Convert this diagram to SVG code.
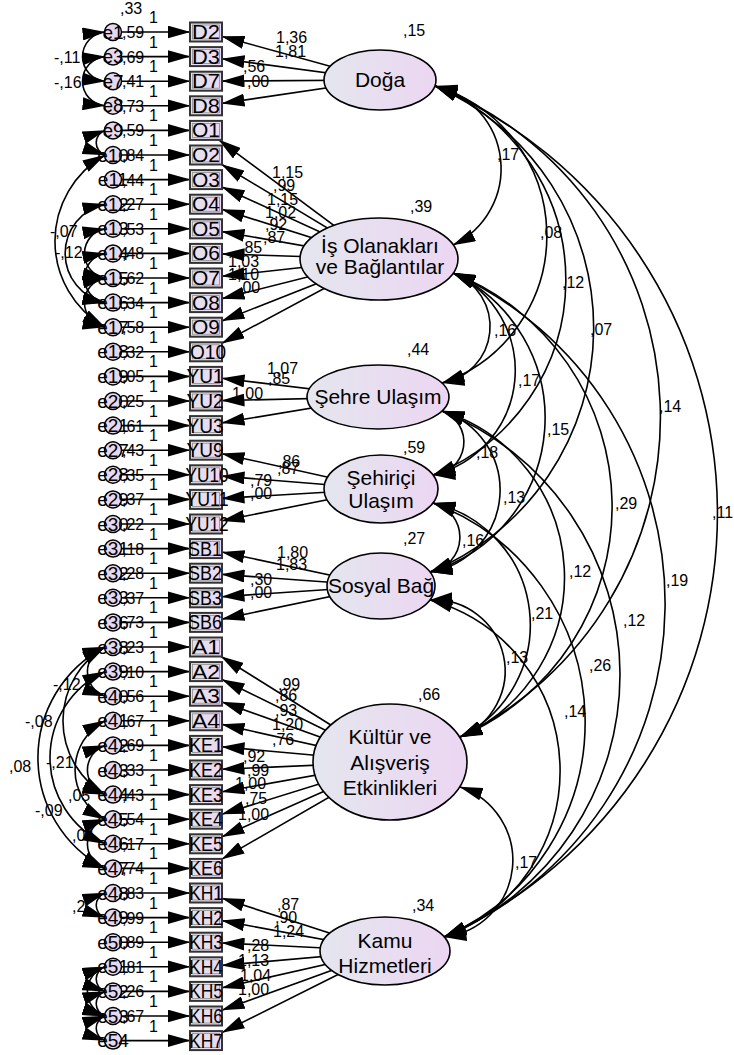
<svg xmlns="http://www.w3.org/2000/svg" width="734" height="1055" viewBox="0 0 734 1055">
<defs>
<marker id="ah" viewBox="0 0 23 13" markerWidth="23" markerHeight="13" refX="22.5" refY="6.5" orient="auto-start-reverse" markerUnits="userSpaceOnUse"><path d="M0,0 L23,6.5 L0,13 Z" fill="#000"/></marker>
<linearGradient id="gl" x1="0" y1="0" x2="1" y2="0"><stop offset="0" stop-color="#e4e6ee"/><stop offset="1" stop-color="#ecd6f2"/></linearGradient>
<linearGradient id="gb" x1="0" y1="0" x2="1" y2="0"><stop offset="0" stop-color="#e2e2ec"/><stop offset="1" stop-color="#ecd8f2"/></linearGradient>
<style>
text { font-family: "Liberation Sans", Arial, sans-serif; fill: #000; }
.ln { stroke: #000; stroke-width: 1.6; fill: none; }
.ar { marker-end: url(#ah); }
.cv { marker-start: url(#ah); marker-end: url(#ah); }
.lab { font-size: 16px; }
.box rect.o { fill: url(#gb); stroke: #333; stroke-width: 2; }
.box rect.i { fill: none; stroke: #8a8a8a; stroke-width: 0.8; }
.box text { font-size: 20px; text-anchor: middle; }
.err circle { fill: #e6d8ee; stroke: #000; stroke-width: 1.5; }
.err text { font-size: 19px; text-anchor: middle; }
.lat ellipse { fill: url(#gl); stroke: #000; stroke-width: 1.6; }
.lat text { font-size: 21px; text-anchor: middle; }
</style>
</defs>
<rect width="734" height="1055" fill="#fff"/>

<g id="connectors">
<!-- error -> indicator -->
<path class="ln ar" d="M121.5,32 H190"/>
<path class="ln ar" d="M121.5,56.6 H190"/>
<path class="ln ar" d="M121.5,81.2 H190"/>
<path class="ln ar" d="M121.5,105.8 H190"/>
<path class="ln ar" d="M121.5,130.4 H190"/>
<path class="ln ar" d="M121.5,155 H190"/>
<path class="ln ar" d="M121.5,179.6 H190"/>
<path class="ln ar" d="M121.5,204.2 H190"/>
<path class="ln ar" d="M121.5,228.8 H190"/>
<path class="ln ar" d="M121.5,253.4 H190"/>
<path class="ln ar" d="M121.5,278 H190"/>
<path class="ln ar" d="M121.5,302.6 H190"/>
<path class="ln ar" d="M121.5,327.2 H190"/>
<path class="ln ar" d="M121.5,351.8 H190"/>
<path class="ln ar" d="M121.5,376.4 H190"/>
<path class="ln ar" d="M121.5,401 H190"/>
<path class="ln ar" d="M121.5,425.6 H190"/>
<path class="ln ar" d="M121.5,450.2 H190"/>
<path class="ln ar" d="M121.5,474.8 H190"/>
<path class="ln ar" d="M121.5,499.4 H190"/>
<path class="ln ar" d="M121.5,524 H190"/>
<path class="ln ar" d="M121.5,548.6 H190"/>
<path class="ln ar" d="M121.5,573.2 H190"/>
<path class="ln ar" d="M121.5,597.8 H190"/>
<path class="ln ar" d="M121.5,622.4 H190"/>
<path class="ln ar" d="M121.5,647 H190"/>
<path class="ln ar" d="M121.5,671.6 H190"/>
<path class="ln ar" d="M121.5,696.2 H190"/>
<path class="ln ar" d="M121.5,720.8 H190"/>
<path class="ln ar" d="M121.5,745.4 H190"/>
<path class="ln ar" d="M121.5,770 H190"/>
<path class="ln ar" d="M121.5,794.6 H190"/>
<path class="ln ar" d="M121.5,819.2 H190"/>
<path class="ln ar" d="M121.5,843.8 H190"/>
<path class="ln ar" d="M121.5,868.4 H190"/>
<path class="ln ar" d="M121.5,893 H190"/>
<path class="ln ar" d="M121.5,917.6 H190"/>
<path class="ln ar" d="M121.5,942.2 H190"/>
<path class="ln ar" d="M121.5,966.8 H190"/>
<path class="ln ar" d="M121.5,991.4 H190"/>
<path class="ln ar" d="M121.5,1016 H190"/>
<path class="ln ar" d="M121.5,1040.6 H190"/>

<!-- factor loadings -->
<path class="ln ar" d="M380,80 L222,36.4"/>
<path class="ln ar" d="M380,80 L222,58.8"/>
<path class="ln ar" d="M380,80 L222,81.1"/>
<path class="ln ar" d="M380,80 L222,103.4"/>
<path class="ln ar" d="M379,259 L218.8,139.9"/>
<path class="ln ar" d="M379,259 L221.8,164.5"/>
<path class="ln ar" d="M379,259 L222,186.9"/>
<path class="ln ar" d="M379,259 L222,209.3"/>
<path class="ln ar" d="M379,259 L222,231.6"/>
<path class="ln ar" d="M379,259 L222,253.9"/>
<path class="ln ar" d="M379,259 L222,276.2"/>
<path class="ln ar" d="M379,259 L222,298.6"/>
<path class="ln ar" d="M379,259 L222,320.9"/>
<path class="ln ar" d="M379,259 L222,343.2"/>
<path class="ln ar" d="M378,397 L222,378.3"/>
<path class="ln ar" d="M378,397 L222,400.6"/>
<path class="ln ar" d="M378,397 L222,422.9"/>
<path class="ln ar" d="M381,489 L222,453.7"/>
<path class="ln ar" d="M381,489 L222,476.1"/>
<path class="ln ar" d="M381,489 L222,498.4"/>
<path class="ln ar" d="M381,489 L222,520.8"/>
<path class="ln ar" d="M381,586 L222,552"/>
<path class="ln ar" d="M381,586 L222,574.4"/>
<path class="ln ar" d="M381,586 L222,596.7"/>
<path class="ln ar" d="M381,586 L222,619.1"/>
<path class="ln ar" d="M390,762 L221.2,656.5"/>
<path class="ln ar" d="M390,762 L222,679.5"/>
<path class="ln ar" d="M390,762 L222,701.9"/>
<path class="ln ar" d="M390,762 L222,724.4"/>
<path class="ln ar" d="M390,762 L222,746.8"/>
<path class="ln ar" d="M390,762 L222,769.3"/>
<path class="ln ar" d="M390,762 L222,791.8"/>
<path class="ln ar" d="M390,762 L222,814.2"/>
<path class="ln ar" d="M390,762 L222,836.7"/>
<path class="ln ar" d="M390,762 L222,859.1"/>
<path class="ln ar" d="M385,951 L222,898.2"/>
<path class="ln ar" d="M385,951 L222,920.6"/>
<path class="ln ar" d="M385,951 L222,943"/>
<path class="ln ar" d="M385,951 L222,965.4"/>
<path class="ln ar" d="M385,951 L222,987.8"/>
<path class="ln ar" d="M385,951 L222,1010.2"/>
<path class="ln ar" d="M385,951 L222,1032.6"/>

<!-- factor covariances -->
<path class="ln cv" d="M435,86 A84.7,84.7 0 0 1 453,245"/>
<path class="ln cv" d="M435,86 A156,156 0 0 1 442,383"/>
<path class="ln cv" d="M435,86 A209.4,209.4 0 0 1 433,475"/>
<path class="ln cv" d="M435,86 A263.8,263.8 0 0 1 430,572"/>
<path class="ln cv" d="M435,86 A355.7,355.7 0 0 1 460,737"/>
<path class="ln cv" d="M435,86 A464.7,464.7 0 0 1 444,937"/>
<path class="ln cv" d="M453,273 A57.2,57.2 0 0 1 442,383"/>
<path class="ln cv" d="M453,273 A107.5,107.5 0 0 1 433,475"/>
<path class="ln cv" d="M453,273 A160.4,160.4 0 0 1 430,572"/>
<path class="ln cv" d="M453,273 A250.8,250.8 0 0 1 460,737"/>
<path class="ln cv" d="M453,273 A362.8,362.8 0 0 1 444,937"/>
<path class="ln cv" d="M442,411 A33,33 0 0 1 433,475"/>
<path class="ln cv" d="M442,411 A82.9,82.9 0 0 1 430,572"/>
<path class="ln cv" d="M442,411 A174.2,174.2 0 0 1 460,737"/>
<path class="ln cv" d="M442,411 A283.9,283.9 0 0 1 444,937"/>
<path class="ln cv" d="M433,503 A35.2,35.2 0 0 1 430,572"/>
<path class="ln cv" d="M433,503 A124.8,124.8 0 0 1 460,737"/>
<path class="ln cv" d="M433,503 A234,234 0 0 1 444,937"/>
<path class="ln cv" d="M430,600 A71,71 0 0 1 460,737"/>
<path class="ln cv" d="M430,600 A177.1,177.1 0 0 1 444,937"/>
<path class="ln cv" d="M460,787 A77.2,77.2 0 0 1 444,937"/>

<!-- error covariances -->
<path class="ln cv" d="M105,32 A24.7,24.7 0 0 0 105,81.2"/>
<path class="ln cv" d="M105,56.6 A24.7,24.7 0 0 0 105,105.8"/>
<path class="ln cv" d="M105,130.4 A13,13 0 0 0 105,155"/>
<path class="ln cv" d="M105,155 A99.1,99.1 0 0 0 105,327.2"/>
<path class="ln cv" d="M105,204.2 A50.3,50.3 0 0 0 105,302.6"/>
<path class="ln cv" d="M105,228.8 A25,25 0 0 0 105,278"/>
<path class="ln cv" d="M105,253.4 A25,25 0 0 0 105,302.6"/>
<path class="ln cv" d="M105,278 A25,25 0 0 0 105,327.2"/>
<path class="ln cv" d="M105,647 A124.9,124.9 0 0 0 105,868.4"/>
<path class="ln cv" d="M105,671.6 A94.9,94.9 0 0 0 105,843.8"/>
<path class="ln cv" d="M105,647 A85.8,85.8 0 0 0 105,794.6"/>
<path class="ln cv" d="M105,720.8 A55.4,55.4 0 0 0 105,819.2"/>
<path class="ln cv" d="M105,647 A26,26 0 0 0 105,696.2"/>
<path class="ln cv" d="M105,745.4 A26,26 0 0 0 105,794.6"/>
<path class="ln cv" d="M105,819.2 A26,26 0 0 0 105,868.4"/>
<path class="ln cv" d="M105,893 A13,13 0 0 0 105,917.6"/>
<path class="ln cv" d="M105,966.8 A13,13 0 0 0 105,991.4"/>
<path class="ln cv" d="M105,991.4 A13,13 0 0 0 105,1016"/>
<path class="ln cv" d="M105,1016 A13,13 0 0 0 105,1040.6"/>
<path class="ln cv" d="M105,966.8 A26,26 0 0 0 105,1016"/>
</g>

<g id="labels" class="lab">
<!-- regression weights "1" -->
<text x="149" y="23">1</text><text x="149" y="47.6">1</text><text x="149" y="72.2">1</text><text x="149" y="96.8">1</text>
<text x="149" y="121.4">1</text><text x="149" y="146">1</text><text x="149" y="170.6">1</text><text x="149" y="195.2">1</text>
<text x="149" y="219.8">1</text><text x="149" y="244.4">1</text><text x="149" y="269">1</text><text x="149" y="293.6">1</text>
<text x="149" y="318.2">1</text><text x="149" y="342.8">1</text><text x="149" y="367.4">1</text><text x="149" y="392">1</text>
<text x="149" y="416.6">1</text><text x="149" y="441.2">1</text><text x="149" y="465.8">1</text><text x="149" y="490.4">1</text>
<text x="149" y="515">1</text><text x="149" y="539.6">1</text><text x="149" y="564.2">1</text><text x="149" y="588.8">1</text>
<text x="149" y="613.4">1</text><text x="149" y="638">1</text><text x="149" y="662.6">1</text><text x="149" y="687.2">1</text>
<text x="149" y="711.8">1</text><text x="149" y="736.4">1</text><text x="149" y="761">1</text><text x="149" y="785.6">1</text>
<text x="149" y="810.2">1</text><text x="149" y="834.8">1</text><text x="149" y="859.4">1</text><text x="149" y="884">1</text>
<text x="149" y="908.6">1</text><text x="149" y="933.2">1</text><text x="149" y="957.8">1</text><text x="149" y="982.4">1</text>
<text x="149" y="1007">1</text><text x="149" y="1031.6">1</text>
<!-- error variances -->
<text x="120" y="14">,33</text>
<text x="122" y="38">,59</text><text x="122" y="62.6">,69</text><text x="122" y="87.2">,41</text><text x="122" y="111.8">,73</text>
<text x="122" y="136.4">,59</text><text x="122" y="161">,84</text><text x="122" y="185.6">,44</text><text x="122" y="210.2">,27</text>
<text x="122" y="234.8">,53</text><text x="122" y="259.4">,48</text><text x="122" y="284">,62</text><text x="122" y="308.6">,34</text>
<text x="122" y="333.2">,58</text><text x="122" y="357.8">,32</text><text x="122" y="382.4">,05</text><text x="122" y="407">,25</text>
<text x="122" y="431.6">,61</text><text x="122" y="456.2">,43</text><text x="122" y="480.8">,35</text><text x="122" y="505.4">,37</text>
<text x="122" y="530">,22</text><text x="122" y="554.6">,18</text><text x="122" y="579.2">,28</text><text x="122" y="603.8">,37</text>
<text x="122" y="628.4">,73</text><text x="122" y="653">,23</text><text x="122" y="677.6">,10</text><text x="122" y="702.2">,56</text>
<text x="122" y="726.8">,67</text><text x="122" y="751.4">,69</text><text x="122" y="776">,33</text><text x="122" y="800.6">,43</text>
<text x="122" y="825.2">,54</text><text x="122" y="849.8">,17</text><text x="122" y="874.4">,74</text><text x="122" y="899">,83</text>
<text x="122" y="923.6">,99</text><text x="122" y="948.2">,89</text><text x="122" y="972.8">,81</text><text x="122" y="997.4">,26</text>
<text x="122" y="1022">,67</text>
<!-- loadings -->
<text x="276" y="43">1,36</text><text x="275" y="57">1,81</text><text x="243" y="72">,56</text><text x="247" y="87">,00</text>
<text x="272" y="178">1,15</text><text x="273" y="191">,99</text><text x="267" y="205">1,15</text><text x="265" y="218">1,02</text>
<text x="265" y="230">,92</text><text x="263" y="243">,87</text><text x="240" y="253">,85</text><text x="228" y="267">1,03</text>
<text x="228" y="280">1,10</text><text x="238" y="293">,00</text>
<text x="267" y="374">1,07</text><text x="268" y="384">,85</text><text x="232" y="399">1,00</text>
<text x="278" y="467">,86</text><text x="277" y="474">,87</text><text x="250" y="486">,79</text><text x="250" y="499">,00</text>
<text x="277" y="558">1,80</text><text x="276" y="570">1,83</text><text x="250" y="585">,30</text><text x="250" y="598">,00</text>
<text x="278" y="690">,99</text><text x="275" y="701">,86</text><text x="275" y="716">,93</text><text x="272" y="730">1,20</text>
<text x="272" y="745">,76</text><text x="243" y="762">,92</text><text x="247" y="776">,99</text><text x="235" y="789">1,00</text>
<text x="245" y="804">,75</text><text x="238" y="820">1,00</text>
<text x="277" y="910">,87</text><text x="275" y="923">,90</text><text x="273" y="937">1,24</text><text x="247" y="951">,28</text>
<text x="238" y="966">1,13</text><text x="240" y="981">1,04</text><text x="238" y="995">1,00</text>
<!-- factor variances -->
<text x="403" y="36">,15</text><text x="410" y="212">,39</text><text x="407" y="355">,44</text><text x="403" y="453">,59</text>
<text x="403" y="544">,27</text><text x="418" y="700">,66</text><text x="412" y="911">,34</text>
<!-- factor covariances -->
<text x="497" y="160">,17</text><text x="540" y="238">,08</text><text x="562" y="288">,12</text><text x="590" y="335">,07</text>
<text x="659" y="412">,14</text><text x="712" y="518">,11</text>
<text x="494" y="336">,16</text><text x="518" y="386">,17</text><text x="547" y="435">,15</text><text x="615" y="509">,29</text>
<text x="666" y="586">,19</text>
<text x="476" y="458">,18</text><text x="503" y="503">,13</text><text x="569" y="577">,12</text><text x="623" y="626">,12</text>
<text x="462" y="546">,16</text><text x="531" y="619">,21</text><text x="589" y="671">,26</text>
<text x="506" y="663">,13</text><text x="564" y="717">,14</text><text x="515" y="868">,17</text>
<!-- error covariances -->
<text x="54" y="63">-,11</text><text x="54" y="88">-,16</text>
<text x="50" y="237">-,07</text><text x="55" y="258">-,12</text>
<text x="53" y="690">-,12</text><text x="25" y="727">-,08</text><text x="9" y="772">,08</text><text x="46" y="768">-,21</text>
<text x="68" y="801">,05</text><text x="35" y="816">-,09</text><text x="72" y="841">,04</text><text x="72" y="912">,2</text>
</g>

<!-- error terms -->
<g id="e2" class="err"><circle cx="113" cy="32" r="8.5"/><text x="113" y="38.5">e1</text></g>
<g id="e3" class="err"><circle cx="113" cy="56.6" r="8.5"/><text x="113" y="63.1">e3</text></g>
<g id="e7" class="err"><circle cx="113" cy="81.2" r="8.5"/><text x="113" y="87.7">e7</text></g>
<g id="e8" class="err"><circle cx="113" cy="105.8" r="8.5"/><text x="113" y="112.3">e8</text></g>
<g id="e9" class="err"><circle cx="113" cy="130.4" r="8.5"/><text x="113" y="136.9">e9</text></g>
<g id="e10" class="err"><circle cx="113" cy="155" r="8.5"/><text x="113" y="161.5">e10</text></g>
<g id="e11" class="err"><circle cx="113" cy="179.6" r="8.5"/><text x="113" y="186.1">e11</text></g>
<g id="e12" class="err"><circle cx="113" cy="204.2" r="8.5"/><text x="113" y="210.7">e12</text></g>
<g id="e13" class="err"><circle cx="113" cy="228.8" r="8.5"/><text x="113" y="235.3">e13</text></g>
<g id="e14" class="err"><circle cx="113" cy="253.4" r="8.5"/><text x="113" y="259.9">e14</text></g>
<g id="e15" class="err"><circle cx="113" cy="278" r="8.5"/><text x="113" y="284.5">e15</text></g>
<g id="e16" class="err"><circle cx="113" cy="302.6" r="8.5"/><text x="113" y="309.1">e16</text></g>
<g id="e17" class="err"><circle cx="113" cy="327.2" r="8.5"/><text x="113" y="333.7">e17</text></g>
<g id="e18" class="err"><circle cx="113" cy="351.8" r="8.5"/><text x="113" y="358.3">e18</text></g>
<g id="e19" class="err"><circle cx="113" cy="376.4" r="8.5"/><text x="113" y="382.9">e19</text></g>
<g id="e20" class="err"><circle cx="113" cy="401" r="8.5"/><text x="113" y="407.5">e20</text></g>
<g id="e21" class="err"><circle cx="113" cy="425.6" r="8.5"/><text x="113" y="432.1">e21</text></g>
<g id="e27" class="err"><circle cx="113" cy="450.2" r="8.5"/><text x="113" y="456.7">e27</text></g>
<g id="e28" class="err"><circle cx="113" cy="474.8" r="8.5"/><text x="113" y="481.3">e28</text></g>
<g id="e29" class="err"><circle cx="113" cy="499.4" r="8.5"/><text x="113" y="505.9">e29</text></g>
<g id="e30" class="err"><circle cx="113" cy="524" r="8.5"/><text x="113" y="530.5">e30</text></g>
<g id="e31" class="err"><circle cx="113" cy="548.6" r="8.5"/><text x="113" y="555.1">e31</text></g>
<g id="e32" class="err"><circle cx="113" cy="573.2" r="8.5"/><text x="113" y="579.7">e32</text></g>
<g id="e33" class="err"><circle cx="113" cy="597.8" r="8.5"/><text x="113" y="604.3">e33</text></g>
<g id="e36" class="err"><circle cx="113" cy="622.4" r="8.5"/><text x="113" y="628.9">e36</text></g>
<g id="e38" class="err"><circle cx="113" cy="647" r="8.5"/><text x="113" y="653.5">e38</text></g>
<g id="e39" class="err"><circle cx="113" cy="671.6" r="8.5"/><text x="113" y="678.1">e39</text></g>
<g id="e40" class="err"><circle cx="113" cy="696.2" r="8.5"/><text x="113" y="702.7">e40</text></g>
<g id="e41" class="err"><circle cx="113" cy="720.8" r="8.5"/><text x="113" y="727.3">e41</text></g>
<g id="e42" class="err"><circle cx="113" cy="745.4" r="8.5"/><text x="113" y="751.9">e42</text></g>
<g id="e43" class="err"><circle cx="113" cy="770" r="8.5"/><text x="113" y="776.5">e43</text></g>
<g id="e44" class="err"><circle cx="113" cy="794.6" r="8.5"/><text x="113" y="801.1">e44</text></g>
<g id="e45" class="err"><circle cx="113" cy="819.2" r="8.5"/><text x="113" y="825.7">e45</text></g>
<g id="e46" class="err"><circle cx="113" cy="843.8" r="8.5"/><text x="113" y="850.3">e46</text></g>
<g id="e47" class="err"><circle cx="113" cy="868.4" r="8.5"/><text x="113" y="874.9">e47</text></g>
<g id="e48" class="err"><circle cx="113" cy="893" r="8.5"/><text x="113" y="899.5">e48</text></g>
<g id="e49" class="err"><circle cx="113" cy="917.6" r="8.5"/><text x="113" y="924.1">e49</text></g>
<g id="e50" class="err"><circle cx="113" cy="942.2" r="8.5"/><text x="113" y="948.7">e50</text></g>
<g id="e51" class="err"><circle cx="113" cy="966.8" r="8.5"/><text x="113" y="973.3">e51</text></g>
<g id="e52" class="err"><circle cx="113" cy="991.4" r="8.5"/><text x="113" y="997.9">e52</text></g>
<g id="e53" class="err"><circle cx="113" cy="1016" r="8.5"/><text x="113" y="1022.5">e53</text></g>
<g id="e54" class="err"><circle cx="113" cy="1040.6" r="8.5"/><text x="113" y="1047.1">e54</text></g>

<!-- observed indicators -->
<g id="D2" class="box"><rect class="o" x="190" y="22.5" width="32" height="19"/><rect class="i" x="192.5" y="25" width="27" height="14"/><text x="206" y="39" textLength="28" lengthAdjust="spacingAndGlyphs">D2</text></g>
<g id="D3" class="box"><rect class="o" x="190" y="47.1" width="32" height="19"/><rect class="i" x="192.5" y="49.6" width="27" height="14"/><text x="206" y="63.6" textLength="28" lengthAdjust="spacingAndGlyphs">D3</text></g>
<g id="D7" class="box"><rect class="o" x="190" y="71.7" width="32" height="19"/><rect class="i" x="192.5" y="74.2" width="27" height="14"/><text x="206" y="88.2" textLength="28" lengthAdjust="spacingAndGlyphs">D7</text></g>
<g id="D8" class="box"><rect class="o" x="190" y="96.3" width="32" height="19"/><rect class="i" x="192.5" y="98.8" width="27" height="14"/><text x="206" y="112.8" textLength="28" lengthAdjust="spacingAndGlyphs">D8</text></g>
<g id="O1" class="box"><rect class="o" x="190" y="120.9" width="32" height="19"/><rect class="i" x="192.5" y="123.4" width="27" height="14"/><text x="206" y="137.4" textLength="28" lengthAdjust="spacingAndGlyphs">O1</text></g>
<g id="O2" class="box"><rect class="o" x="190" y="145.5" width="32" height="19"/><rect class="i" x="192.5" y="148" width="27" height="14"/><text x="206" y="162" textLength="28" lengthAdjust="spacingAndGlyphs">O2</text></g>
<g id="O3" class="box"><rect class="o" x="190" y="170.1" width="32" height="19"/><rect class="i" x="192.5" y="172.6" width="27" height="14"/><text x="206" y="186.6" textLength="28" lengthAdjust="spacingAndGlyphs">O3</text></g>
<g id="O4" class="box"><rect class="o" x="190" y="194.7" width="32" height="19"/><rect class="i" x="192.5" y="197.2" width="27" height="14"/><text x="206" y="211.2" textLength="28" lengthAdjust="spacingAndGlyphs">O4</text></g>
<g id="O5" class="box"><rect class="o" x="190" y="219.3" width="32" height="19"/><rect class="i" x="192.5" y="221.8" width="27" height="14"/><text x="206" y="235.8" textLength="28" lengthAdjust="spacingAndGlyphs">O5</text></g>
<g id="O6" class="box"><rect class="o" x="190" y="243.9" width="32" height="19"/><rect class="i" x="192.5" y="246.4" width="27" height="14"/><text x="206" y="260.4" textLength="28" lengthAdjust="spacingAndGlyphs">O6</text></g>
<g id="O7" class="box"><rect class="o" x="190" y="268.5" width="32" height="19"/><rect class="i" x="192.5" y="271" width="27" height="14"/><text x="206" y="285" textLength="28" lengthAdjust="spacingAndGlyphs">O7</text></g>
<g id="O8" class="box"><rect class="o" x="190" y="293.1" width="32" height="19"/><rect class="i" x="192.5" y="295.6" width="27" height="14"/><text x="206" y="309.6" textLength="28" lengthAdjust="spacingAndGlyphs">O8</text></g>
<g id="O9" class="box"><rect class="o" x="190" y="317.7" width="32" height="19"/><rect class="i" x="192.5" y="320.2" width="27" height="14"/><text x="206" y="334.2" textLength="28" lengthAdjust="spacingAndGlyphs">O9</text></g>
<g id="O10" class="box"><rect class="o" x="190" y="342.3" width="32" height="19"/><rect class="i" x="192.5" y="344.8" width="27" height="14"/><text x="208" y="358.8" textLength="36" lengthAdjust="spacingAndGlyphs">O10</text></g>
<g id="YU1" class="box"><rect class="o" x="190" y="366.9" width="32" height="19"/><rect class="i" x="192.5" y="369.4" width="27" height="14"/><text x="205" y="383.4" textLength="37" lengthAdjust="spacingAndGlyphs">YU1</text></g>
<g id="YU2" class="box"><rect class="o" x="190" y="391.5" width="32" height="19"/><rect class="i" x="192.5" y="394" width="27" height="14"/><text x="205" y="408" textLength="37" lengthAdjust="spacingAndGlyphs">YU2</text></g>
<g id="YU3" class="box"><rect class="o" x="190" y="416.1" width="32" height="19"/><rect class="i" x="192.5" y="418.6" width="27" height="14"/><text x="205" y="432.6" textLength="37" lengthAdjust="spacingAndGlyphs">YU3</text></g>
<g id="YU9" class="box"><rect class="o" x="190" y="440.7" width="32" height="19"/><rect class="i" x="192.5" y="443.2" width="27" height="14"/><text x="205" y="457.2" textLength="37" lengthAdjust="spacingAndGlyphs">YU9</text></g>
<g id="YU10" class="box"><rect class="o" x="190" y="465.3" width="32" height="19"/><rect class="i" x="192.5" y="467.8" width="27" height="14"/><text x="207" y="481.8" textLength="43" lengthAdjust="spacingAndGlyphs">YU10</text></g>
<g id="YU11" class="box"><rect class="o" x="190" y="489.9" width="32" height="19"/><rect class="i" x="192.5" y="492.4" width="27" height="14"/><text x="207" y="506.4" textLength="43" lengthAdjust="spacingAndGlyphs">YU11</text></g>
<g id="YU12" class="box"><rect class="o" x="190" y="514.5" width="32" height="19"/><rect class="i" x="192.5" y="517" width="27" height="14"/><text x="207" y="531" textLength="43" lengthAdjust="spacingAndGlyphs">YU12</text></g>
<g id="SB1" class="box"><rect class="o" x="190" y="539.1" width="32" height="19"/><rect class="i" x="192.5" y="541.6" width="27" height="14"/><text x="205" y="555.6" textLength="34" lengthAdjust="spacingAndGlyphs">SB1</text></g>
<g id="SB2" class="box"><rect class="o" x="190" y="563.7" width="32" height="19"/><rect class="i" x="192.5" y="566.2" width="27" height="14"/><text x="205" y="580.2" textLength="34" lengthAdjust="spacingAndGlyphs">SB2</text></g>
<g id="SB3" class="box"><rect class="o" x="190" y="588.3" width="32" height="19"/><rect class="i" x="192.5" y="590.8" width="27" height="14"/><text x="205" y="604.8" textLength="34" lengthAdjust="spacingAndGlyphs">SB3</text></g>
<g id="SB6" class="box"><rect class="o" x="190" y="612.9" width="32" height="19"/><rect class="i" x="192.5" y="615.4" width="27" height="14"/><text x="205" y="629.4" textLength="34" lengthAdjust="spacingAndGlyphs">SB6</text></g>
<g id="A1" class="box"><rect class="o" x="190" y="637.5" width="32" height="19"/><rect class="i" x="192.5" y="640" width="27" height="14"/><text x="206" y="654" textLength="28" lengthAdjust="spacingAndGlyphs">A1</text></g>
<g id="A2" class="box"><rect class="o" x="190" y="662.1" width="32" height="19"/><rect class="i" x="192.5" y="664.6" width="27" height="14"/><text x="206" y="678.6" textLength="28" lengthAdjust="spacingAndGlyphs">A2</text></g>
<g id="A3" class="box"><rect class="o" x="190" y="686.7" width="32" height="19"/><rect class="i" x="192.5" y="689.2" width="27" height="14"/><text x="206" y="703.2" textLength="28" lengthAdjust="spacingAndGlyphs">A3</text></g>
<g id="A4" class="box"><rect class="o" x="190" y="711.3" width="32" height="19"/><rect class="i" x="192.5" y="713.8" width="27" height="14"/><text x="206" y="727.8" textLength="28" lengthAdjust="spacingAndGlyphs">A4</text></g>
<g id="KE1" class="box"><rect class="o" x="190" y="735.9" width="32" height="19"/><rect class="i" x="192.5" y="738.4" width="27" height="14"/><text x="206" y="752.4" textLength="34" lengthAdjust="spacingAndGlyphs">KE1</text></g>
<g id="KE2" class="box"><rect class="o" x="190" y="760.5" width="32" height="19"/><rect class="i" x="192.5" y="763" width="27" height="14"/><text x="206" y="777" textLength="34" lengthAdjust="spacingAndGlyphs">KE2</text></g>
<g id="KE3" class="box"><rect class="o" x="190" y="785.1" width="32" height="19"/><rect class="i" x="192.5" y="787.6" width="27" height="14"/><text x="206" y="801.6" textLength="34" lengthAdjust="spacingAndGlyphs">KE3</text></g>
<g id="KE4" class="box"><rect class="o" x="190" y="809.7" width="32" height="19"/><rect class="i" x="192.5" y="812.2" width="27" height="14"/><text x="206" y="826.2" textLength="34" lengthAdjust="spacingAndGlyphs">KE4</text></g>
<g id="KE5" class="box"><rect class="o" x="190" y="834.3" width="32" height="19"/><rect class="i" x="192.5" y="836.8" width="27" height="14"/><text x="206" y="850.8" textLength="34" lengthAdjust="spacingAndGlyphs">KE5</text></g>
<g id="KE6" class="box"><rect class="o" x="190" y="858.9" width="32" height="19"/><rect class="i" x="192.5" y="861.4" width="27" height="14"/><text x="206" y="875.4" textLength="34" lengthAdjust="spacingAndGlyphs">KE6</text></g>
<g id="KH1" class="box"><rect class="o" x="190" y="883.5" width="32" height="19"/><rect class="i" x="192.5" y="886" width="27" height="14"/><text x="206" y="900" textLength="34" lengthAdjust="spacingAndGlyphs">KH1</text></g>
<g id="KH2" class="box"><rect class="o" x="190" y="908.1" width="32" height="19"/><rect class="i" x="192.5" y="910.6" width="27" height="14"/><text x="206" y="924.6" textLength="34" lengthAdjust="spacingAndGlyphs">KH2</text></g>
<g id="KH3" class="box"><rect class="o" x="190" y="932.7" width="32" height="19"/><rect class="i" x="192.5" y="935.2" width="27" height="14"/><text x="206" y="949.2" textLength="34" lengthAdjust="spacingAndGlyphs">KH3</text></g>
<g id="KH4" class="box"><rect class="o" x="190" y="957.3" width="32" height="19"/><rect class="i" x="192.5" y="959.8" width="27" height="14"/><text x="206" y="973.8" textLength="34" lengthAdjust="spacingAndGlyphs">KH4</text></g>
<g id="KH5" class="box"><rect class="o" x="190" y="981.9" width="32" height="19"/><rect class="i" x="192.5" y="984.4" width="27" height="14"/><text x="206" y="998.4" textLength="34" lengthAdjust="spacingAndGlyphs">KH5</text></g>
<g id="KH6" class="box"><rect class="o" x="190" y="1006.5" width="32" height="19"/><rect class="i" x="192.5" y="1009" width="27" height="14"/><text x="206" y="1023" textLength="34" lengthAdjust="spacingAndGlyphs">KH6</text></g>
<g id="KH7" class="box"><rect class="o" x="190" y="1031.1" width="32" height="19"/><rect class="i" x="192.5" y="1033.6" width="27" height="14"/><text x="206" y="1047.6" textLength="34" lengthAdjust="spacingAndGlyphs">KH7</text></g>

<!-- latent factors -->
<g id="Doga" class="lat"><ellipse cx="380" cy="80" rx="56" ry="30"/><text x="380" y="87">Doğa</text></g>
<g id="IsOlanaklari" class="lat"><ellipse cx="379" cy="259" rx="79" ry="41"/><text x="380" y="253">İş Olanakları</text><text x="380" y="274">ve Bağlantılar</text></g>
<g id="SehreUlasim" class="lat"><ellipse cx="378" cy="397" rx="71" ry="32"/><text x="378" y="404">Şehre Ulaşım</text></g>
<g id="SehiriciUlasim" class="lat"><ellipse cx="381" cy="489" rx="57" ry="34"/><text x="381" y="485">Şehiriçi</text><text x="381" y="508">Ulaşım</text></g>
<g id="SosyalBag" class="lat"><ellipse cx="381" cy="586" rx="54" ry="33"/><text x="381" y="593">Sosyal Bağ</text></g>
<g id="KulturAlisveris" class="lat"><ellipse cx="390" cy="762" rx="77" ry="58"/><text x="390" y="744">Kültür ve</text><text x="390" y="770">Alışveriş</text><text x="390" y="795">Etkinlikleri</text></g>
<g id="KamuHizmetleri" class="lat"><ellipse cx="385" cy="951" rx="65" ry="34"/><text x="385" y="948">Kamu</text><text x="385" y="973">Hizmetleri</text></g>
</svg>
